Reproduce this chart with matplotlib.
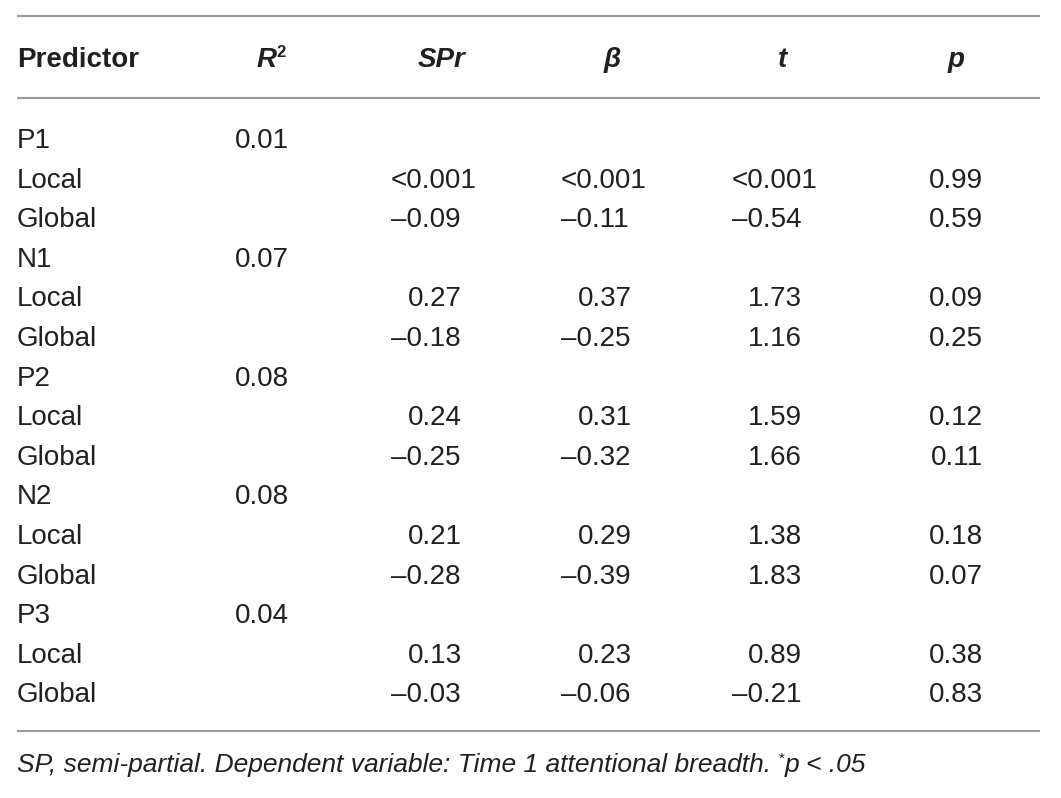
import matplotlib
matplotlib.use("Agg")
import matplotlib.pyplot as plt

# table content
predictors = ["P1", "N1", "P2", "N2", "P3"]
r_squared = ["0.01", "0.07", "0.08", "0.08", "0.04"]
sub_rows = ["Local", "Global"]
spr = [["<0.001", "\u20130.09"], ["0.27", "\u20130.18"], ["0.24", "\u20130.25"],
       ["0.21", "\u20130.28"], ["0.13", "\u20130.03"]]
beta = [["<0.001", "\u20130.11"], ["0.37", "\u20130.25"], ["0.31", "\u20130.32"],
        ["0.29", "\u20130.39"], ["0.23", "\u20130.06"]]
t_vals = [["<0.001", "\u20130.54"], ["1.73", "1.16"], ["1.59", "1.66"],
          ["1.38", "1.83"], ["0.89", "\u20130.21"]]
p_vals = [["0.99", "0.59"], ["0.09", "0.25"], ["0.12", "0.11"],
          ["0.18", "0.07"], ["0.38", "0.83"]]
footnote = "SP, semi-partial. Dependent variable: Time 1 attentional breadth. "

plt.rcParams['font.family'] = ['Liberation Sans', 'DejaVu Sans']
ink = '#231f20'
rule = '#9b9b9b'
fs = 20

fig = plt.figure(figsize=(10.61, 7.98), dpi=100)
ax = fig.add_axes([0, 0, 1, 1])
ax.set_xlim(0, 1061)
ax.set_ylim(798, 0)
ax.axis('off')

# rules
for y in (16, 98, 731):
    ax.plot([17, 1040], [y, y], color=rule, lw=1.5, solid_capstyle='butt')

# header
hb = 67
ax.text(17, hb, "Predictor", fontsize=fs, fontweight='bold', color=ink)
ax.text(257, hb, "R", fontsize=fs, fontweight='bold', style='italic', color=ink)
ax.text(276, hb - 10, "2", fontsize=12, fontweight='bold', color=ink)
ax.text(418, hb, "SPr", fontsize=fs, fontweight='bold', style='italic', color=ink)
ax.text(604, hb, "\u03b2", fontsize=fs, fontweight='bold', style='italic', color=ink)
ax.text(778, hb, "t", fontsize=fs, fontweight='bold', style='italic', color=ink)
ax.text(948, hb, "p", fontsize=fs, fontweight='bold', style='italic', color=ink)

# columns: (values, left x, right x)
cols = [(spr, 391, 462), (beta, 561, 632), (t_vals, 732, 802), (p_vals, 928, 983)]

y0 = 148
step = 39.6
row = 0
for i, name in enumerate(predictors):
    yb = y0 + row * step
    ax.text(17, yb, name, fontsize=fs, color=ink)
    ax.text(235, yb, r_squared[i], fontsize=fs, color=ink)
    row += 1
    for j, sub in enumerate(sub_rows):
        yb = y0 + row * step
        ax.text(17, yb, sub, fontsize=fs, color=ink)
        for vals, xl, xr in cols:
            v = vals[i][j]
            if v[0] in "<\u2013":
                ax.text(xl, yb, v, fontsize=fs, color=ink, ha='left')
            else:
                ax.text(xr, yb, v, fontsize=fs, color=ink, ha='right')
        row += 1

# footnote with superscript asterisk
fb = 772
t1 = ax.text(17, fb, footnote, fontsize=19, style='italic', color=ink)
fig.canvas.draw()
r = fig.canvas.get_renderer()
bb = t1.get_window_extent(renderer=r)
x1 = ax.transData.inverted().transform((bb.x1, bb.y0))[0]
ax.text(x1, fb - 9, "*", fontsize=11, color=ink)
ax.text(x1 + 6, fb, "p < .05", fontsize=19, style='italic', color=ink)

fig.savefig("out.png", dpi=100, facecolor='white')
